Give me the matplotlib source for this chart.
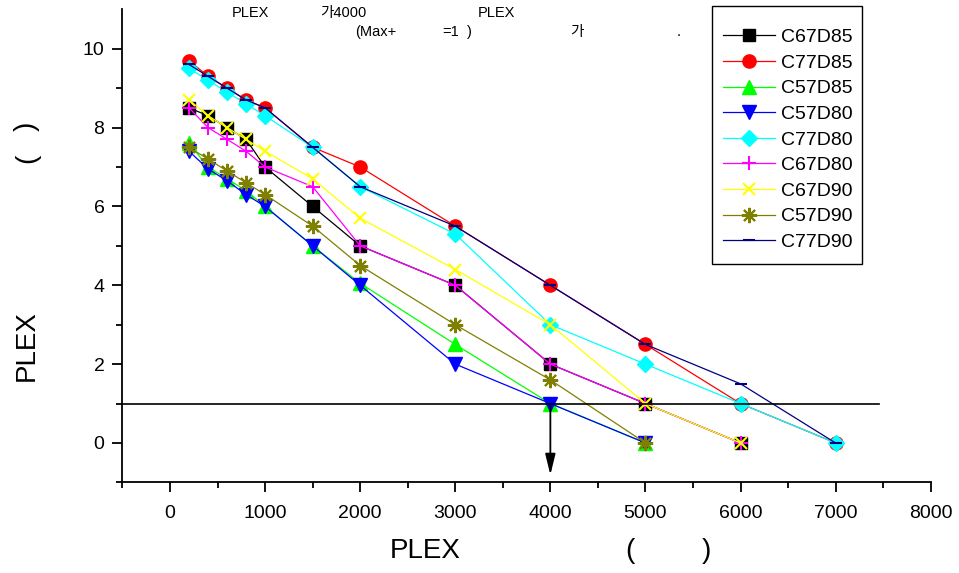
import numpy as np
import matplotlib
matplotlib.use('Agg')
import matplotlib.pyplot as plt
from matplotlib.patches import Rectangle

plt.rcParams['font.family'] = ['Liberation Sans', 'Noto Sans CJK KR', 'DejaVu Sans']

# data
x_long = [200, 400, 600, 800, 1000, 1500, 2000, 3000, 4000, 5000, 6000, 7000]
x_mid = x_long[:11]
x_short = x_long[:10]

c67d85 = [8.5, 8.3, 8.0, 7.7, 7.0, 6.0, 5.0, 4.0, 2.0, 1.0, 0.0]
c77d85 = [9.7, 9.3, 9.0, 8.7, 8.5, 7.5, 7.0, 5.5, 4.0, 2.5, 1.0, 0.0]
c57d85 = [7.6, 7.0, 6.7, 6.4, 6.0, 5.0, 4.05, 2.5, 1.0, 0.0]
c57d80 = [7.4, 6.95, 6.65, 6.3, 6.0, 5.0, 4.0, 2.0, 1.0, 0.0]
c77d80 = [9.5, 9.2, 8.9, 8.6, 8.3, 7.5, 6.5, 5.3, 3.0, 2.0, 1.0, 0.0]
c67d80 = [8.5, 8.0, 7.7, 7.4, 7.0, 6.5, 5.0, 4.0, 2.0, 1.0, 0.0]
c67d90 = [8.7, 8.3, 8.0, 7.7, 7.4, 6.7, 5.7, 4.4, 3.0, 1.0, 0.0]
c57d90 = [7.5, 7.2, 6.9, 6.6, 6.3, 5.5, 4.5, 3.0, 1.6, 0.0]
c77d90 = [9.6, 9.3, 9.0, 8.7, 8.5, 7.5, 6.5, 5.5, 4.0, 2.5, 1.5, 0.0]

series = [
    ('C67D85', x_mid, c67d85, '#000000', 's', 9),
    ('C77D85', x_long, c77d85, '#FF0000', 'o', 9.5),
    ('C57D85', x_short, c57d85, '#00FF00', '^', 10),
    ('C57D80', x_short, c57d80, '#0000FF', 'v', 10),
    ('C77D80', x_long, c77d80, '#00FFFF', 'D', 8),
    ('C67D80', x_mid, c67d80, '#FF00FF', '+', 10),
    ('C67D90', x_mid, c67d90, '#FFFF00', 'x', 9),
    ('C57D90', x_short, c57d90, '#808000', (8, 2, 0), 11),
    ('C77D90', x_long, c77d90, '#000080', '_', 9),
]

fig = plt.figure(figsize=(9.59, 5.73), dpi=100)
ax = fig.add_axes([0.1277, 0.1581, 0.9705 - 0.1277, 0.9838 - 0.1581])

for name, xs, ys, col, mk, ms in series:
    mew = 1.5 if mk in ('+', 'x', '_', (8, 2, 0)) else 1.0
    ax.plot(xs, ys, color=col, lw=0.9, marker=mk, markersize=ms,
            markeredgewidth=mew, markeredgecolor=col, markerfacecolor=col,
            label=name)

# reference line at 1 and arrow down at 4000
ax.plot([-500, 7460], [1, 1], color='black', lw=1.2, zorder=5)
ax.annotate('', xy=(4000, -0.88), xytext=(4000, 1),
            arrowprops=dict(arrowstyle='-|>,head_width=0.22,head_length=0.9',
                            color='black', lw=1.3, mutation_scale=14),
            zorder=6)

ax.set_xlim(-500, 8000)
ax.set_ylim(-1, 11)
ax.set_xticks(np.arange(0, 8001, 1000))
ax.set_xticks(np.arange(-500, 8001, 500), minor=True)
ax.set_yticks(np.arange(0, 11, 2))
ax.set_yticks(np.arange(-1, 11, 1), minor=True)
ax.spines['top'].set_visible(False)
ax.spines['right'].set_visible(False)
for s in ('left', 'bottom'):
    ax.spines[s].set_linewidth(1.3)
ax.tick_params(which='major', direction='out', length=7, width=1.3,
               labelsize=14, pad=6)
ax.tick_params(axis='x', which='major', pad=9)
ax.tick_params(which='minor', direction='out', length=4.5, width=1.3)


def px(x, y):
    return x / 959, 1 - y / 573


# legend box drawn separately so the rows can sit inside it like the original
ax.add_patch(Rectangle(px(712, 264), 150 / 959, 258 / 573,
                       transform=fig.transFigure, clip_on=False,
                       facecolor='white', edgecolor='black', lw=1.0,
                       zorder=8))
leg = ax.legend(loc='upper left', bbox_to_anchor=px(712, 18),
                bbox_transform=fig.transFigure, fontsize=14, frameon=False,
                handlelength=2.7, handletextpad=0.3, labelspacing=0.41,
                borderpad=0.55, borderaxespad=0)
leg.set_zorder(9)

# title pieces (the rest of the original characters did not render)
for s, x, y in [('PLEX', 232, 13), ('가4000', 320, 13), ('PLEX', 478, 13),
                ('(Max+', 355, 32), ('=1', 442, 32), (')', 467, 32),
                ('가', 570, 32), ('.', 677, 32)]:
    fig.text(*px(x, y), s, fontsize=10.5, ha='left', va='center')

# x label pieces
for s, x in [('PLEX', 390), ('(', 625), (')', 702)]:
    fig.text(*px(x, 551), s, fontsize=20, ha='left', va='center')

# y label pieces
fig.text(*px(27, 346), 'PLEX', fontsize=20, rotation=90, ha='center', va='center')
fig.text(*px(27, 158), '(', fontsize=20, rotation=90, ha='center', va='center')
fig.text(*px(27, 126), ')', fontsize=20, rotation=90, ha='center', va='center')

fig.savefig('out.png', dpi=100)
